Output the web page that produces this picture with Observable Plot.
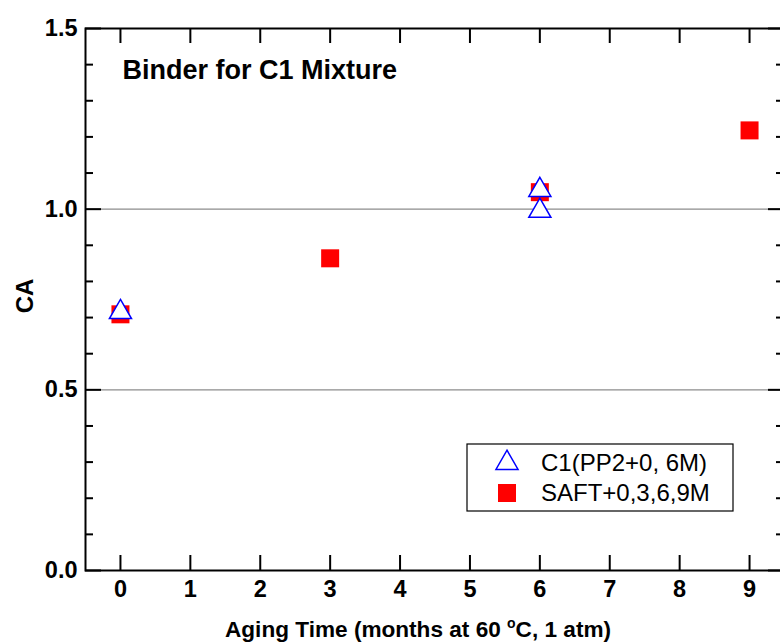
<!DOCTYPE html>
<html><head><meta charset="utf-8">
<script src="https://cdn.jsdelivr.net/npm/d3@7"></script>
<script src="https://cdn.jsdelivr.net/npm/@observablehq/plot@0.6"></script>
<style>
body{margin:0;overflow:hidden;background:#fff}
#chart{position:relative;width:780px;height:644px;overflow:hidden}
</style>
</head><body><div id="chart"></div>
<script>
// ---- data ----
const saftMonths = [0, 3, 6, 9];
const saftCA = [0.709, 0.864, 1.047, 1.218];
const c1Months = [0, 6, 6];
const c1CA = [0.715, 1.053, 0.995];
const xTickValues = [0, 1, 2, 3, 4, 5, 6, 7, 8, 9];
const yTickValues = [0, 0.5, 1.0, 1.5];
const yMinorValues = [0.1, 0.2, 0.3, 0.4, 0.6, 0.7, 0.8, 0.9, 1.1, 1.2, 1.3, 1.4];
const gridValues = [0.5, 1.0];
const seriesNames = ["C1(PP2+0, 6M)", "SAFT+0,3,6,9M"];
const titleText = "Binder for C1 Mixture";
const yLabel = "CA";

// ---- layout ----
const W = 784, H = 644, mL = 85, mR = 0, mT = 28, mB = 74;
const pw = W - mL - mR, ph = H - mT - mB;
const font = "'Liberation Sans', Arial, sans-serif";

const saft = saftMonths.map((m, i) => ({x: m, y: saftCA[i]}));
const c1 = c1Months.map((m, i) => ({x: m, y: c1CA[i]}));

const sqR = Math.sqrt(324 / Math.PI);
const triR = 8.2;

const svg = Plot.plot({
  width: W, height: H,
  marginLeft: mL, marginRight: mR, marginTop: mT, marginBottom: mB,
  style: {fontFamily: font, fontWeight: "bold", fontSize: "23px", color: "#000", background: "#fff", maxWidth: "none", overflow: "visible"},
  x: {domain: [-0.5, 9.5], axis: null},
  y: {domain: [0, 1.5], axis: null},
  marks: [
    Plot.ruleY(gridValues, {stroke: "#8c8c8c", strokeWidth: 1.2}),
    Plot.ruleX(xTickValues, {insetTop: ph - 15, strokeWidth: 2, stroke: "#000"}),
    Plot.ruleX(xTickValues, {insetBottom: ph - 15, strokeWidth: 2, stroke: "#000"}),
    Plot.ruleY(yTickValues, {insetRight: pw - 16, strokeWidth: 2, stroke: "#000"}),
    Plot.ruleY(yMinorValues, {insetRight: pw - 8, strokeWidth: 2, stroke: "#000"}),
    Plot.ruleY(yTickValues, {insetLeft: pw - 16, strokeWidth: 2, stroke: "#000"}),
    Plot.ruleY(yMinorValues, {insetLeft: pw - 8, strokeWidth: 2, stroke: "#000"}),
    Plot.frame({stroke: "#000", strokeWidth: 2}),
    Plot.dot(saft, {x: "x", y: "y", symbol: "square", r: sqR, fill: "#ff0000", stroke: "none"}),
    Plot.dot(c1, {x: "x", y: "y", symbol: "triangle", r: triR, fill: "#fff", stroke: "#0000ff", strokeWidth: 1.5}),
    Plot.axisX(xTickValues, {tickSize: 0, tickPadding: 10, fontSize: 23.5, fontWeight: "bold", label: null}),
    Plot.axisY(yTickValues, {tickSize: 0, tickPadding: 8, fontSize: 23.5, fontWeight: "bold", tickFormat: d3.format(".1f"), label: null}),
    Plot.text([titleText], {frameAnchor: "top-left", dx: 37, dy: 50, lineAnchor: "bottom", textAnchor: "start", fontSize: 27, fontWeight: "bold", fill: "#000"})
  ]
});
document.getElementById("chart").appendChild(svg);

const s = d3.select(svg);
// x label with superscript degree
const xl = s.append("text").attr("x", 225).attr("y", 637).attr("text-anchor", "start")
  .attr("font-family", font).attr("font-weight", "bold").attr("font-size", 22.6).attr("fill", "#000");
xl.append("tspan").text("Aging Time (months at 60 ");
xl.append("tspan").attr("dy", -9).attr("font-size", 14).text("o");
xl.append("tspan").attr("dy", 9).text("C, 1 atm)");

// y label
s.append("text").attr("transform", "translate(33,296) rotate(-90)")
  .attr("text-anchor", "middle").attr("font-family", font).attr("font-weight", "bold")
  .attr("font-size", 24).attr("fill", "#000").text(yLabel);

// legend
const lg = s.append("g").attr("font-family", font).attr("font-weight", "normal").attr("font-size", 24).attr("text-anchor", "start");
lg.append("rect").attr("x", 467).attr("y", 444).attr("width", 266).attr("height", 67)
  .attr("fill", "#fff").attr("stroke", "#000").attr("stroke-width", 1.2);
const rows = [
  {name: seriesNames[0], sym: d3.symbolTriangle, size: Math.PI * triR * triR, fill: "#fff", stroke: "#0000ff", y: 463},
  {name: seriesNames[1], sym: d3.symbolSquare, size: Math.PI * sqR * sqR, fill: "#ff0000", stroke: "none", y: 493}
];
rows.forEach(r => {
  lg.append("path").attr("d", d3.symbol(r.sym, r.size)()).attr("transform", `translate(507,${r.y})`)
    .attr("fill", r.fill).attr("stroke", r.stroke).attr("stroke-width", 1.5);
  lg.append("text").attr("x", 541).attr("y", r.y).attr("dy", "0.35em").attr("text-anchor", "start").attr("fill", "#000").text(r.name);
});
</script>
</body></html>
